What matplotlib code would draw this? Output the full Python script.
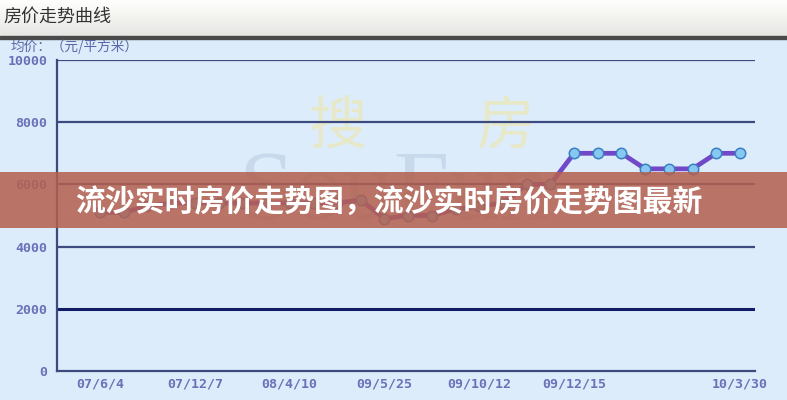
import matplotlib
matplotlib.use("Agg")
import matplotlib.pyplot as plt
import numpy as np
from matplotlib.patches import Rectangle

plt.rcParams['font.family'] = ['Noto Sans CJK SC', 'DejaVu Sans']

# ---- data ----
prices = [5100, 5100, 5300, 5400, 5400, 5400, 5400, 5400, 5400, 5400,
          5400, 5500, 4900, 5000, 5000, 5200, 5300, 5400, 6000, 6000,
          7000, 7000, 7000, 6500, 6500, 6500, 7000, 7000]
tick_idx = [0, 4, 8, 12, 16, 20, 27]
tick_labels = ["07/6/4", "07/12/7", "08/4/10", "09/5/25", "09/10/12", "09/12/15", "10/3/30"]
y_ticks = [0, 2000, 4000, 6000, 8000, 10000]
y_labels = ["0", "2000", "4000", "6000", "8000", "10000"]
header_title = "房价走势曲线"
unit_label = "均价：（元/平方米）"
banner_text = "流沙实时房价走势图，流沙实时房价走势图最新"

W, H = 787, 400
fig = plt.figure(figsize=(W / 100, H / 100), dpi=100)
fig.patch.set_facecolor("#dcecfb")

# background axes in pixel coords
bg = fig.add_axes([0, 0, 1, 1], zorder=0)
bg.set_xlim(0, W)
bg.set_ylim(H, 0)
bg.axis("off")
grad = np.linspace(1.0, 0.90, 64).reshape(-1, 1)
bg.imshow(np.dstack([grad, grad, grad * 0.99]), extent=[0, W, 36, 0], aspect="auto", zorder=1)
bg.add_patch(Rectangle((0, 36), W, 2.5, color="#4a4a4a", zorder=2))
bg.add_patch(Rectangle((0, 38.5), W, H - 38.5, color="#dcecfb", zorder=1))
bg.text(3, 17, header_title, fontsize=13, color="#333333", va="center", ha="left", zorder=3)
bg.text(10, 47, unit_label, fontsize=9.8, color="#5a66a8", va="center", ha="left", zorder=3)
# watermark
bg.text(238, 195, "SouFun", family="Liberation Serif", fontsize=72, color="#b5c7de", alpha=0.5,
        va="center", ha="left", zorder=2)
bg.text(338, 128, "搜", fontsize=42, color="#ece7b8", alpha=0.75, va="center", ha="center", zorder=2)
bg.text(505, 128, "房", fontsize=42, color="#ece7b8", alpha=0.75, va="center", ha="center", zorder=2)

# chart axes
x0, x1, yb, yt = 57, 755, 371, 60
ax = fig.add_axes([x0 / W, (H - yb) / H, (x1 - x0) / W, (yb - yt) / H], zorder=1)
ax.patch.set_alpha(0)
px_per_i = 640 / 27
ax.set_xlim(-(100 - x0) / px_per_i, 27 + (x1 - 740) / px_per_i)
ax.set_ylim(0, 10000)
for s in ["top", "right"]:
    ax.spines[s].set_visible(False)
ax.spines["left"].set_color("#3c4a7e")
ax.spines["bottom"].set_color("#3c4a7e")
ax.spines["left"].set_linewidth(1.6)
ax.spines["bottom"].set_linewidth(1.6)
for v in y_ticks[1:]:
    ax.axhline(v, color="#101c66" if v == 2000 else "#3c4a80", lw=2.2 if v == 2000 else 1.6, zorder=1)

x = np.arange(len(prices))
ax.plot(x, prices, color="#7048c8", lw=3.4, zorder=3, solid_capstyle="round")
ax.plot(x, prices, ls="none", marker="o", ms=7.5, mfc="#86c8f2", mec="#3a7fc0", mew=1.1, zorder=4)

mono = dict(family="DejaVu Sans Mono", fontweight="bold", color="#6b70b8", fontsize=9.5)
ax.set_yticks(y_ticks)
ax.set_yticklabels(y_labels, **mono)
ax.set_xticks(tick_idx)
ax.set_xticklabels(tick_labels, **mono)
ax.tick_params(axis="both", length=0)
ax.tick_params(axis="y", pad=7)
ax.tick_params(axis="x", pad=5)

# banner overlay
ov = fig.add_axes([0, 0, 1, 1], zorder=5)
ov.set_xlim(0, W)
ov.set_ylim(H, 0)
ov.axis("off")
ov.patch.set_alpha(0)
ov.add_patch(Rectangle((0, 172), W, 56, color="#b4604f", alpha=0.86, lw=0))
ov.text(75, 202, banner_text, fontsize=21.5, fontweight="bold", color="white",
        va="center", ha="left")

fig.savefig("out.png", dpi=100)
